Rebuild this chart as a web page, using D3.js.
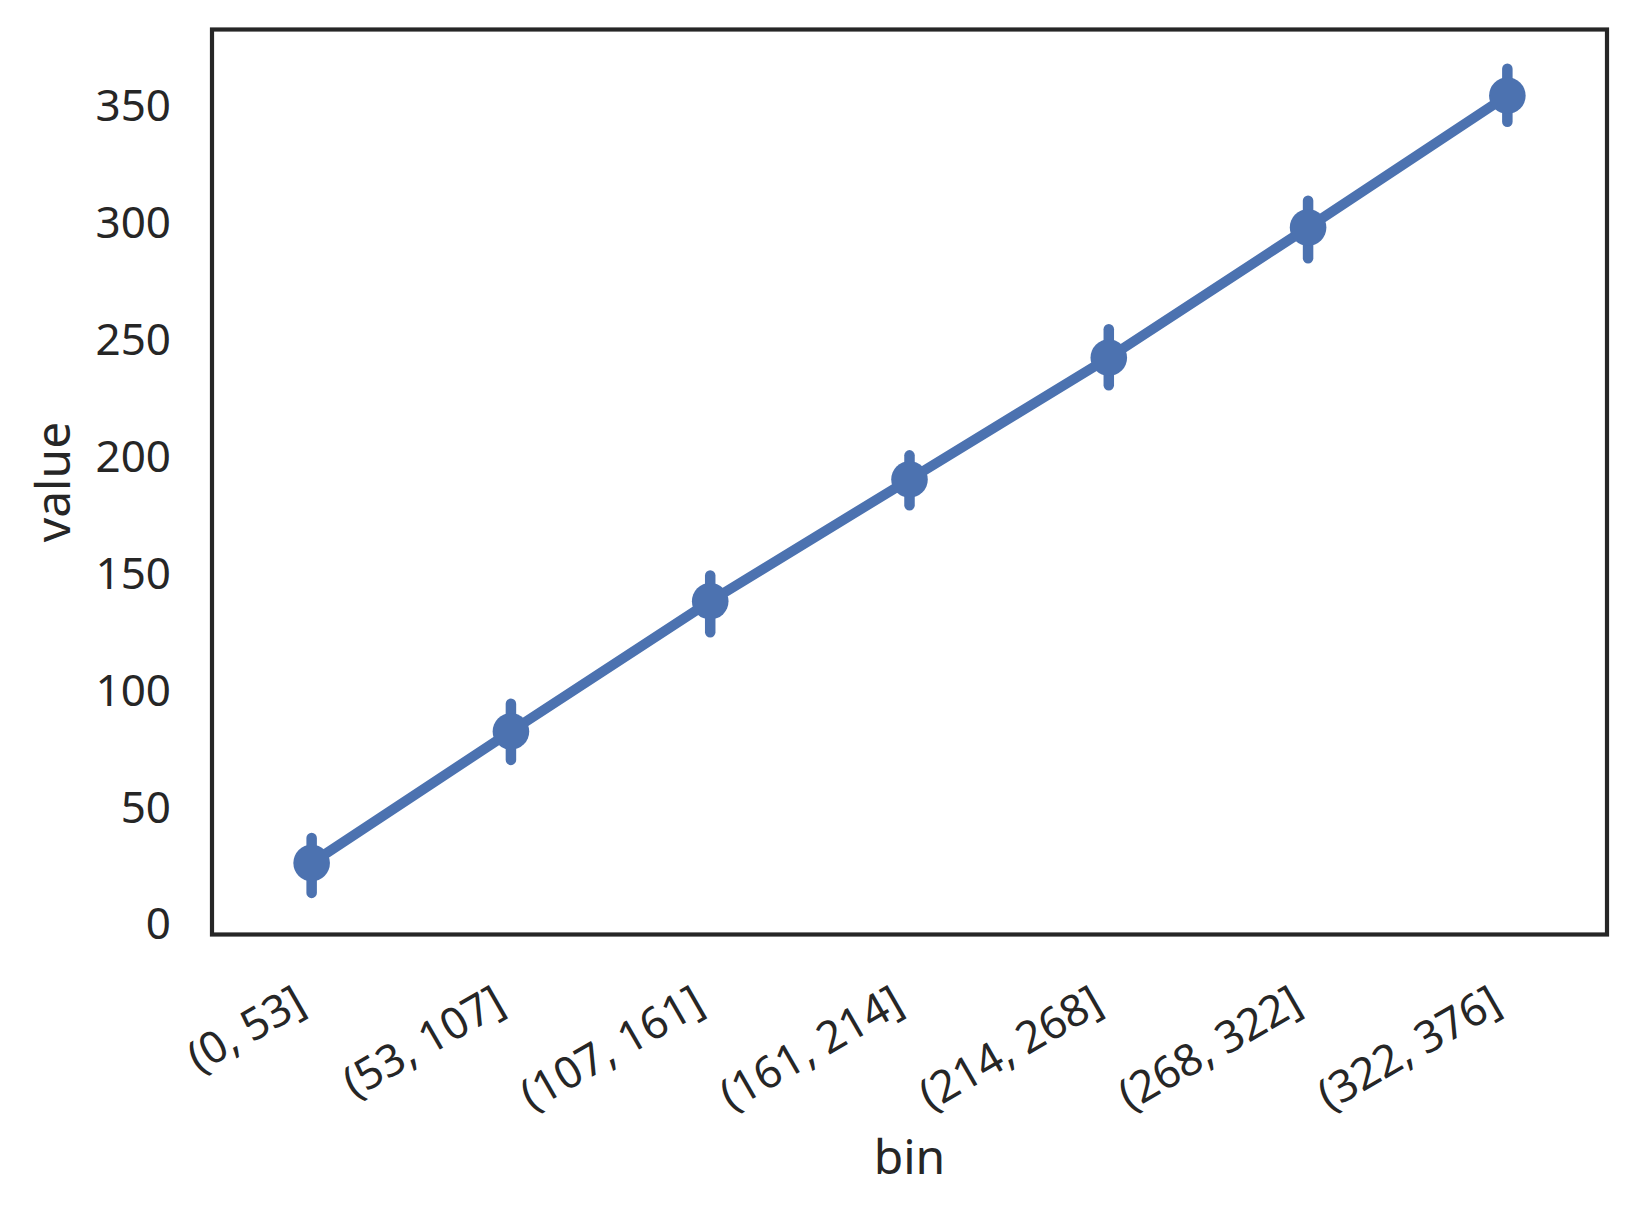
<!DOCTYPE html>
<html>
<head>
<meta charset="utf-8">
<script src="https://cdn.jsdelivr.net/npm/d3@7"></script>
<style>
  html, body { margin: 0; padding: 0; background: #fff; }
  #root { width: 1637px; height: 1213px; }
  text { font-family: "Noto Sans", "Open Sans", sans-serif; fill: #262626; }
</style>
</head>
<body>
<div id="root"></div>
<script>
// data
const bins = ['(0, 53]', '(53, 107]', '(107, 161]', '(161, 214]', '(214, 268]', '(268, 322]', '(322, 376]'];
const values = [25.7, 82.0, 137.7, 189.8, 241.9, 297.6, 354.0];
const ciLow = [12.9, 69.8, 124.4, 178.7, 230.1, 284.4, 342.8];
const ciHigh = [36.4, 93.8, 148.7, 200.1, 254.1, 309.0, 365.5];
const yTicks = [0, 50, 100, 150, 200, 250, 300, 350];

const root = document.getElementById('root');
const width = 1637;
const height = 1213;

// plot area
const plotLeft = 212, plotRight = 1607, plotTop = 29.5, plotBottom = 934.5;
const blue = '#4c72b0';
const dark = '#262626';

const svg = d3.select(root)
    .append('svg')
    .attr('width', width)
    .attr('height', height);

const x = d3.scalePoint()
    .domain(bins)
    .range([plotLeft, plotRight])
    .padding(0.5);

const y = d3.scaleLinear()
    .domain([-4.9, 382.3])
    .range([plotBottom, plotTop]);

const rows = bins.map((b, i) => ({bin: b, value: values[i], lo: ciLow[i], hi: ciHigh[i]}));

// y axis
const yAxis = svg.append('g')
    .attr('transform', `translate(${plotLeft},0)`)
    .call(d3.axisLeft(y).tickValues(yTicks).tickSize(0).tickPadding(41));
yAxis.select('.domain').remove();
yAxis.selectAll('text')
    .attr('font-size', '44px')
    .attr('dy', '0.36em')
    .style('font-family', '"Noto Sans", sans-serif')
    .attr('fill', dark);

// x axis, labels turned 30 degrees
const xAxis = svg.append('g')
    .attr('transform', `translate(0,${plotBottom})`)
    .call(d3.axisBottom(x).tickSize(0));
xAxis.select('.domain').remove();
xAxis.selectAll('text')
    .attr('font-size', '44px')
    .attr('x', 0)
    .attr('y', 0)
    .attr('dy', null)
    .attr('text-anchor', 'end')
    .attr('transform', 'translate(-4,76) rotate(-30)')
    .style('font-family', '"Noto Sans", sans-serif')
    .attr('fill', dark);

// axis titles
svg.append('text')
    .attr('x', (plotLeft + plotRight) / 2)
    .attr('y', 1174)
    .attr('text-anchor', 'middle')
    .attr('font-size', '48px')
    .text('bin');
svg.append('text')
    .attr('transform', `translate(70, ${(plotTop + plotBottom) / 2}) rotate(-90)`)
    .attr('text-anchor', 'middle')
    .attr('font-size', '48px')
    .text('value');

// error bars
svg.selectAll('.ci')
    .data(rows)
    .enter()
    .append('line')
    .attr('class', 'ci')
    .attr('x1', d => x(d.bin))
    .attr('x2', d => x(d.bin))
    .attr('y1', d => y(d.lo))
    .attr('y2', d => y(d.hi))
    .attr('stroke', blue)
    .attr('stroke-width', 10.5)
    .attr('stroke-linecap', 'round');

// connecting line
const line = d3.line()
    .x(d => x(d.bin))
    .y(d => y(d.value));
svg.append('path')
    .datum(rows)
    .attr('d', line)
    .attr('fill', 'none')
    .attr('stroke', blue)
    .attr('stroke-width', 10)
    .attr('stroke-linejoin', 'round');

// points
svg.selectAll('.dot')
    .data(rows)
    .enter()
    .append('circle')
    .attr('class', 'dot')
    .attr('cx', d => x(d.bin))
    .attr('cy', d => y(d.value))
    .attr('r', 18.3)
    .attr('fill', blue);

// frame
svg.append('rect')
    .attr('x', plotLeft)
    .attr('y', plotTop)
    .attr('width', plotRight - plotLeft)
    .attr('height', plotBottom - plotTop)
    .attr('fill', 'none')
    .attr('stroke', dark)
    .attr('stroke-width', 4.2);
</script>
</body>
</html>
